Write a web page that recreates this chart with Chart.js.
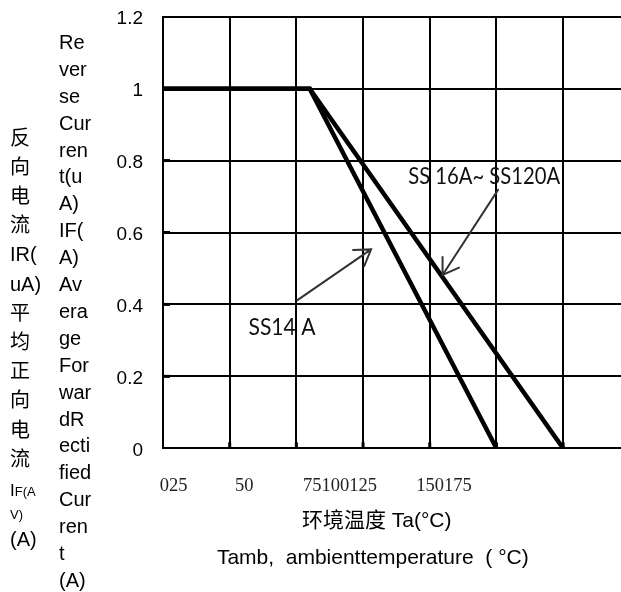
<!DOCTYPE html>
<html>
<head>
<meta charset="utf-8">
<script src="https://cdn.jsdelivr.net/npm/chart.js@4.4.1/dist/chart.umd.min.js"></script>
<style>
  html, body { margin: 0; padding: 0; background: #fff; overflow: hidden; }
  #wrap { position: relative; width: 621px; height: 592px; }
</style>
</head>
<body>
<div id="wrap"><canvas id="c" width="621" height="592"></canvas></div>
<script>
// ---------------- data ----------------
const tempSS14 = [0, 55, 125];
const currentSS14 = [1, 1, 0];
const tempSS16 = [0, 55, 150];
const currentSS16 = [1, 1, 0];
const seriesNames = ['SS14 A', 'SS 16A~ SS120A'];

const gridTemps = [0, 25, 50, 75, 100, 125, 150];
const xTickLabels = ['025', '50', '75100125', '150175'];
const xTickLabelTemps = [4, 30.5, 66.4, 105.3];
const yTicks = [0, 0.2, 0.4, 0.6, 0.8, 1, 1.2];
const yTickLabels = ['0', '0.2', '0.4', '0.6', '0.8', '1', '1.2'];

const labelAt = [[44.6, 0.336], [120.4, 0.755]];
const arrowFrom = [[50.4, 0.412], [125.6, 0.7185]];
const arrowTo = [[78.0, 0.553], [104.8, 0.482]];

const xTitleLines = ['环境温度 Ta(°C)', 'Tamb,  ambienttemperature  ( °C)'];
const yTitleCN = ['反', '向', '电', '流', 'IR(', 'uA)', '平', '均', '正', '向', '电', '流', 'I|F(A', '|V)', '(A)'];
const yTitleEN = ['Re', 'ver', 'se', 'Cur', 'ren', 't(u', 'A)', 'IF(', 'A)', 'Av', 'era', 'ge', 'For', 'war', 'dR', 'ecti', 'fied', 'Cur', 'ren', 't', '(A)'];

// ---------------- styling ----------------
const SANS = '"Liberation Sans", Arial, "Noto Sans CJK SC", sans-serif';
const SERIF = '"Liberation Serif", "DejaVu Serif", serif';
const LABEL_FONT = '24px Lato, "Liberation Sans", sans-serif';
const LABEL_WIDTHS = [67, 152];
const X_MAX = 171.7;

const overlay = {
  id: 'overlay',
  afterDatasetsDraw(chart) {
    const { ctx, scales: { x, y }, chartArea } = chart;
    ctx.save();
    // small inner tick stubs
    ctx.fillStyle = '#000';
    yTicks.forEach(v => {
      if (v > 0 && v < 1.2 && v !== 1) {
        const py = y.getPixelForValue(v);
        ctx.fillRect(chartArea.left, py - 1.5, 7, 3);
      }
    });
    gridTemps.forEach(v => {
      if (v > 0) {
        const px = x.getPixelForValue(v);
        ctx.fillRect(px - 1.5, chartArea.bottom - 6, 3, 6);
      }
    });
    // arrows
    ctx.strokeStyle = '#333';
    ctx.lineWidth = 2;
    ctx.lineCap = 'round';
    arrowFrom.forEach((f, i) => {
      const t = arrowTo[i];
      const x1 = x.getPixelForValue(f[0]), y1 = y.getPixelForValue(f[1]);
      const x2 = x.getPixelForValue(t[0]), y2 = y.getPixelForValue(t[1]);
      ctx.beginPath();
      ctx.moveTo(x1, y1);
      ctx.lineTo(x2, y2);
      const ang = Math.atan2(y1 - y2, x1 - x2);
      const L = 18, a = 33 * Math.PI / 180;
      ctx.moveTo(x2 + L * Math.cos(ang + a), y2 + L * Math.sin(ang + a));
      ctx.lineTo(x2, y2);
      ctx.lineTo(x2 + L * Math.cos(ang - a), y2 + L * Math.sin(ang - a));
      ctx.stroke();
    });
    // series labels (condensed to match the original narrow face)
    ctx.fillStyle = '#111';
    ctx.font = LABEL_FONT;
    ctx.textAlign = 'center';
    ctx.textBaseline = 'middle';
    seriesNames.forEach((s, i) => {
      const px = x.getPixelForValue(labelAt[i][0]);
      const py = y.getPixelForValue(labelAt[i][1]);
      const w = ctx.measureText(s).width;
      const k = LABEL_WIDTHS[i] / w;
      ctx.save();
      ctx.translate(px, py);
      ctx.scale(k, 1);
      ctx.fillText(s, 0, 0);
      ctx.restore();
    });
    ctx.restore();
  },
  afterDraw(chart) {
    const { ctx } = chart;
    ctx.save();
    ctx.fillStyle = '#000';
    // x-axis titles
    ctx.textAlign = 'center';
    ctx.textBaseline = 'middle';
    ctx.font = '21px ' + SANS;
    ctx.fillText(xTitleLines[0], 376.7, 521.7);
    ctx.fillText(xTitleLines[1], 372.8, 558.3);
    // English column
    ctx.textAlign = 'left';
    ctx.font = '20px ' + SANS;
    yTitleEN.forEach((s, i) => ctx.fillText(s, 59, 43.4 + i * 26.9));
    // Chinese column
    let cy = 139.1;
    yTitleCN.forEach((s, i) => {
      if (i > 0) {
        const prevSmall = yTitleCN[i - 1].startsWith('|');
        const small = s.startsWith('|');
        cy += prevSmall ? 28 : (small ? 23 : 29.2);
      }
      if (s.includes('|')) {
        const [big, sm] = s.split('|');
        ctx.textBaseline = 'alphabetic';
        let xx = 10;
        const base = cy + 6;
        if (big) {
          ctx.font = '17px ' + SANS;
          ctx.fillText(big, xx, base);
          xx += ctx.measureText(big).width;
        }
        ctx.font = '13px ' + SANS;
        ctx.fillText(sm, xx, base);
        ctx.textBaseline = 'middle';
      } else {
        ctx.font = '20px ' + SANS;
        ctx.fillText(s, 10, cy);
      }
    });
    ctx.restore();
  }
};

new Chart(document.getElementById('c'), {
  type: 'line',
  data: {
    datasets: [
      {
        label: seriesNames[0],
        data: tempSS14.map((t, i) => ({ x: t, y: currentSS14[i] })),
        borderColor: '#000', borderWidth: 4.5, pointRadius: 0, tension: 0, fill: false
      },
      {
        label: seriesNames[1],
        data: tempSS16.map((t, i) => ({ x: t, y: currentSS16[i] })),
        borderColor: '#000', borderWidth: 4.5, pointRadius: 0, tension: 0, fill: false
      }
    ]
  },
  options: {
    responsive: false,
    animation: false,
    devicePixelRatio: 1,
    layout: { padding: { top: 16.7, left: 0, right: 0, bottom: 0 } },
    plugins: { legend: { display: false }, tooltip: { enabled: false }, title: { display: false } },
    scales: {
      x: {
        type: 'linear', position: 'bottom', weight: 0, min: 0, max: X_MAX,
        afterBuildTicks: s => { s.ticks = gridTemps.map(v => ({ value: v })); },
        ticks: { display: false },
        grid: { color: '#000', lineWidth: 2, drawTicks: false },
        border: { display: true, color: '#000', width: 2 },
        afterFit: s => { s.height = 0; }
      },
      x2: {
        type: 'linear', position: 'bottom', weight: 1, min: 0, max: X_MAX,
        afterBuildTicks: s => { s.ticks = xTickLabelTemps.map(v => ({ value: v })); },
        ticks: {
          callback: (v, i) => xTickLabels[i],
          font: { family: SERIF, size: 18.5 },
          color: '#222', padding: 27, autoSkip: false, maxRotation: 0, minRotation: 0
        },
        grid: { display: false, drawTicks: false },
        border: { display: false },
        afterFit: s => { s.height = 143.7; }
      },
      y: {
        type: 'linear', position: 'left', min: 0, max: 1.2,
        afterBuildTicks: s => { s.ticks = yTicks.map(v => ({ value: v })); },
        ticks: {
          callback: (v) => yTickLabels[yTicks.indexOf(v)],
          font: { family: SANS, size: 19 }, color: '#000', padding: 0, labelOffset: 2
        },
        grid: { color: '#000', lineWidth: 2, drawTicks: true, tickLength: 20, tickColor: 'rgba(0,0,0,0)' },
        border: { display: true, color: '#000', width: 2 },
        afterFit: s => { s.width = 163; }
      }
    }
  },
  plugins: [overlay]
});
</script>
</body>
</html>
